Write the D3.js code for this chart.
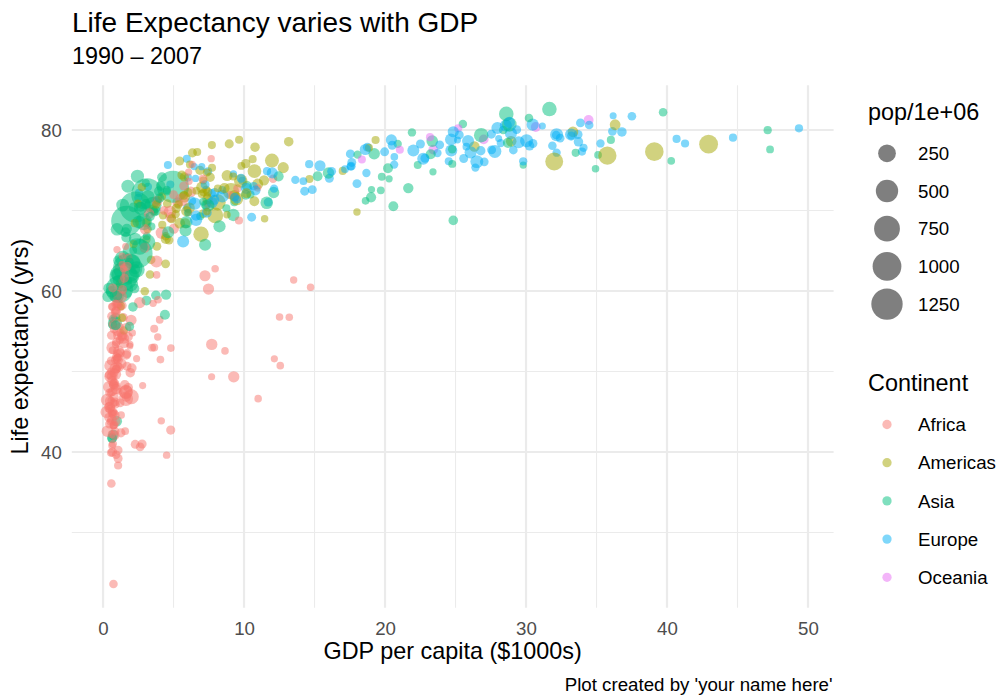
<!DOCTYPE html>
<html>
<head>
<meta charset="utf-8">
<script src="https://cdn.jsdelivr.net/npm/d3@7"></script>
<style>
  body { margin: 0; background: #fff; }
  text { font-family: "Liberation Sans", Arial, Helvetica, sans-serif; }
</style>
</head>
<body>
<div id="chart"></div>
<script>
const years = [1992, 1997, 2002, 2007];
const continents = ["Africa", "Americas", "Asia", "Europe", "Oceania"];
const colors = ["#F8766D", "#A3A500", "#00BF7D", "#00B0F6", "#E76BF3"];
const xTicks = [0, 10, 20, 30, 40, 50];
const xMinor = [5, 15, 25, 35, 45];
const yTicks = [40, 60, 80];
const yMinor = [30, 50, 70];
const sizeBreaks = [250, 500, 750, 1000, 1250];

// row: country, then [gdpPercap ($1000s), lifeExp, pop (millions)] for 1992, 1997, 2002, 2007
const africa = [
  ["Algeria",[5.02,67.74,26.30],[4.80,69.15,29.07],[5.29,70.99,31.29],[6.22,72.30,33.33]],
  ["Angola",[2.63,40.65,8.74],[2.28,40.96,9.88],[2.77,41.00,10.87],[4.80,42.73,12.42]],
  ["Benin",[1.19,53.92,4.98],[1.23,54.78,6.07],[1.37,54.41,7.03],[1.44,56.73,8.08]],
  ["Botswana",[7.95,62.75,1.34],[8.65,52.56,1.54],[11.00,46.63,1.63],[12.57,50.73,1.64]],
  ["Burkina Faso",[0.93,50.26,8.88],[0.95,50.32,10.35],[1.04,50.65,12.25],[1.22,52.30,14.33]],
  ["Burundi",[0.63,44.74,5.81],[0.46,45.33,6.12],[0.45,47.36,7.02],[0.43,49.58,8.39]],
  ["Cameroon",[1.79,54.31,12.47],[1.69,52.20,14.20],[1.93,49.86,15.93],[2.04,50.43,17.70]],
  ["Central African Republic",[0.75,49.40,3.27],[0.74,46.07,3.70],[0.74,43.31,4.05],[0.71,44.74,4.37]],
  ["Chad",[1.06,51.72,6.43],[1.00,51.57,7.56],[1.16,50.53,8.84],[1.70,50.65,10.24]],
  ["Comoros",[1.25,57.94,0.45],[1.17,60.66,0.53],[1.08,62.97,0.61],[0.99,65.15,0.71]],
  ["Congo, Dem. Rep.",[0.46,45.55,41.67],[0.31,42.59,47.80],[0.24,44.97,55.38],[0.28,46.46,64.61]],
  ["Congo, Rep.",[4.02,56.43,2.41],[3.48,52.96,2.80],[3.63,52.97,3.33],[3.63,55.32,3.80]],
  ["Cote d'Ivoire",[1.65,52.04,12.77],[1.79,47.99,14.63],[1.65,46.83,16.25],[1.54,48.33,18.01]],
  ["Djibouti",[2.38,51.60,0.38],[1.90,53.16,0.42],[1.91,53.37,0.45],[2.08,54.79,0.50]],
  ["Egypt",[3.79,63.67,59.40],[4.17,67.22,66.13],[4.75,69.81,73.31],[5.58,71.34,80.26]],
  ["Equatorial Guinea",[1.13,47.55,0.39],[2.81,48.25,0.44],[7.70,49.35,0.50],[12.15,51.58,0.55]],
  ["Eritrea",[0.58,49.99,3.67],[0.91,53.38,4.06],[0.77,55.24,4.41],[0.64,58.04,4.91]],
  ["Ethiopia",[0.42,48.09,52.90],[0.52,49.40,59.86],[0.53,50.73,67.95],[0.69,52.95,76.51]],
  ["Gabon",[13.52,61.37,0.99],[14.72,60.46,1.13],[12.52,56.76,1.30],[13.21,56.74,1.45]],
  ["Gambia",[0.67,52.64,1.03],[0.65,55.86,1.24],[0.66,58.04,1.46],[0.75,59.45,1.69]],
  ["Ghana",[0.93,57.50,16.28],[1.01,58.56,18.42],[1.11,58.45,20.55],[1.33,60.02,22.87]],
  ["Guinea",[0.79,48.58,6.99],[0.87,51.46,8.05],[0.95,53.68,8.81],[0.94,56.01,9.95]],
  ["Guinea-Bissau",[0.75,43.27,1.05],[0.80,44.87,1.19],[0.58,45.50,1.33],[0.58,46.39,1.47]],
  ["Kenya",[1.34,59.29,25.02],[1.36,54.41,28.26],[1.29,50.99,31.39],[1.46,54.11,35.61]],
  ["Lesotho",[0.98,59.69,1.80],[1.19,55.56,1.98],[1.28,44.59,2.05],[1.57,42.59,2.01]],
  ["Liberia",[0.64,40.80,1.91],[0.61,42.22,2.20],[0.53,43.75,2.81],[0.41,45.68,3.19]],
  ["Libya",[9.64,68.76,4.36],[9.47,71.56,4.76],[9.53,72.74,5.37],[12.06,73.95,6.04]],
  ["Madagascar",[1.04,52.21,12.21],[0.99,54.98,14.17],[0.89,57.29,16.47],[1.04,59.44,19.17]],
  ["Malawi",[0.58,49.42,10.01],[0.67,47.50,10.42],[0.67,45.01,11.82],[0.76,48.30,13.33]],
  ["Mali",[0.74,48.39,8.42],[0.79,49.90,9.38],[0.95,51.82,10.58],[1.04,54.47,12.03]],
  ["Mauritania",[1.36,61.37,2.12],[1.48,62.97,2.44],[1.58,62.25,2.83],[1.80,64.16,3.27]],
  ["Mauritius",[6.06,69.75,1.10],[7.43,70.74,1.15],[9.02,71.95,1.20],[10.96,72.80,1.25]],
  ["Morocco",[2.95,65.39,25.80],[2.98,67.66,28.53],[3.26,69.62,31.17],[3.82,71.16,33.76]],
  ["Mozambique",[0.41,44.28,13.16],[0.47,46.34,16.60],[0.63,44.03,18.47],[0.82,42.08,19.95]],
  ["Namibia",[3.80,62.00,1.55],[3.90,58.91,1.77],[4.07,51.48,1.97],[4.81,52.91,2.06]],
  ["Niger",[0.58,47.39,8.39],[0.58,51.31,9.67],[0.60,54.50,11.14],[0.62,56.87,12.89]],
  ["Nigeria",[1.62,47.47,93.36],[1.62,47.46,106.21],[1.62,46.61,119.90],[2.01,46.86,135.03]],
  ["Reunion",[6.10,73.62,0.62],[6.07,74.77,0.68],[6.32,75.74,0.74],[7.67,76.44,0.80]],
  ["Rwanda",[0.74,23.60,7.29],[0.59,36.09,7.21],[0.79,43.41,7.85],[0.86,46.24,8.86]],
  ["Sao Tome and Principe",[1.43,62.74,0.13],[1.34,63.31,0.15],[1.35,64.34,0.17],[1.60,65.53,0.20]],
  ["Senegal",[1.37,58.20,8.31],[1.39,60.19,9.54],[1.52,61.60,10.87],[1.71,63.06,12.27]],
  ["Sierra Leone",[1.07,38.33,4.26],[0.57,39.90,4.58],[0.70,41.01,5.36],[0.86,42.57,6.14]],
  ["Somalia",[0.93,39.66,6.10],[0.93,43.80,6.63],[0.88,45.94,7.75],[0.93,48.16,9.12]],
  ["South Africa",[7.23,61.89,39.96],[7.48,60.24,42.84],[7.71,53.37,44.43],[9.27,49.34,44.00]],
  ["Sudan",[1.49,53.56,28.23],[1.63,55.37,32.16],[1.99,56.37,37.09],[2.60,58.56,42.29]],
  ["Swaziland",[3.55,58.47,0.96],[3.88,54.29,1.05],[4.13,43.87,1.13],[4.51,39.61,1.13]],
  ["Tanzania",[0.83,50.44,26.61],[0.79,48.47,30.69],[0.90,49.65,34.59],[1.11,52.52,38.14]],
  ["Togo",[1.04,58.06,3.93],[0.98,58.39,4.32],[0.89,57.56,4.98],[0.88,58.42,5.70]],
  ["Tunisia",[4.33,70.00,8.52],[5.00,71.97,9.23],[5.72,73.04,9.77],[7.09,73.92,10.28]],
  ["Uganda",[0.64,48.83,18.25],[0.82,44.58,21.21],[0.93,47.81,24.74],[1.06,51.54,29.17]],
  ["Zambia",[1.21,46.10,8.38],[1.07,40.24,9.42],[1.07,39.19,10.60],[1.27,42.38,11.75]],
  ["Zimbabwe",[0.69,60.38,10.70],[0.79,46.81,11.40],[0.67,39.99,11.93],[0.47,43.49,12.31]]
];

const americas = [
  ["Argentina",[9.31,71.87,33.96],[10.97,73.28,36.20],[8.80,74.34,38.33],[12.78,75.32,40.30]],
  ["Bolivia",[2.96,59.96,6.89],[3.33,62.05,7.69],[3.41,63.88,8.45],[3.82,65.55,9.12]],
  ["Brazil",[6.95,67.06,155.98],[7.96,69.39,168.55],[8.13,71.01,179.91],[9.07,72.39,190.01]],
  ["Canada",[26.34,77.95,28.52],[28.95,78.61,30.31],[33.33,79.77,31.90],[36.32,80.65,33.39]],
  ["Chile",[7.60,74.13,13.57],[10.12,75.82,14.60],[10.78,77.86,15.50],[13.17,78.55,16.28]],
  ["Colombia",[5.44,68.42,34.20],[6.12,70.31,37.66],[5.76,71.68,41.01],[7.01,72.89,44.23]],
  ["Costa Rica",[6.16,75.71,3.17],[6.68,77.26,3.52],[7.72,78.12,3.83],[9.65,78.78,4.13]],
  ["Cuba",[5.59,74.41,10.72],[5.43,76.15,10.98],[6.34,77.16,11.23],[8.95,78.27,11.42]],
  ["Dominican Republic",[3.04,68.46,7.35],[3.61,69.96,7.99],[4.56,70.85,8.65],[6.03,72.24,9.32]],
  ["Ecuador",[7.10,69.61,10.75],[7.43,72.31,11.91],[5.77,74.17,12.92],[6.87,74.99,13.76]],
  ["El Salvador",[4.44,66.80,5.27],[5.15,69.54,5.78],[5.35,70.73,6.35],[5.73,71.88,6.94]],
  ["Guatemala",[4.44,63.37,8.49],[4.68,66.32,9.80],[4.86,68.98,11.18],[5.19,70.26,12.57]],
  ["Haiti",[1.46,55.09,6.33],[1.34,56.67,6.91],[1.27,58.14,7.61],[1.20,60.92,8.50]],
  ["Honduras",[3.08,66.40,5.08],[3.16,67.66,5.87],[3.10,68.57,6.68],[3.55,70.20,7.48]],
  ["Jamaica",[7.40,71.77,2.38],[7.12,72.26,2.53],[7.00,72.05,2.66],[7.32,72.57,2.78]],
  ["Mexico",[9.47,71.46,88.11],[9.77,73.67,95.90],[10.74,74.90,102.48],[11.98,76.20,108.70]],
  ["Nicaragua",[2.17,65.84,4.02],[2.25,68.43,4.61],[2.47,70.84,5.15],[2.75,72.90,5.68]],
  ["Panama",[6.62,72.46,2.48],[7.11,73.74,2.73],[7.36,74.71,2.99],[9.81,75.54,3.24]],
  ["Paraguay",[4.20,68.23,4.48],[4.25,69.40,5.15],[3.78,70.76,5.88],[4.17,71.75,6.67]],
  ["Peru",[4.45,66.46,22.43],[5.84,68.39,24.75],[5.91,69.91,26.77],[7.41,71.42,28.67]],
  ["Puerto Rico",[14.64,73.91,3.59],[17.00,74.92,3.76],[18.86,77.78,3.86],[19.33,78.75,3.94]],
  ["Trinidad and Tobago",[7.37,69.86,1.18],[8.79,69.47,1.14],[11.46,68.98,1.10],[18.01,69.82,1.06]],
  ["United States",[32.00,76.09,256.89],[35.77,76.81,272.91],[39.10,77.31,287.68],[42.95,78.24,301.14]],
  ["Uruguay",[8.14,72.75,3.15],[9.23,74.22,3.26],[7.73,75.31,3.36],[10.61,76.38,3.45]],
  ["Venezuela",[10.73,71.15,20.27],[10.17,72.15,22.37],[8.61,72.77,24.29],[11.42,73.75,26.08]]
];

const asia = [
  ["Afghanistan",[0.65,41.67,16.32],[0.64,41.76,22.23],[0.73,42.13,25.27],[0.97,43.83,31.89]],
  ["Bahrain",[19.04,72.60,0.53],[20.29,73.93,0.60],[23.40,74.80,0.66],[29.80,75.64,0.71]],
  ["Bangladesh",[0.84,56.02,113.70],[0.97,59.41,123.32],[1.14,62.01,135.66],[1.39,64.06,150.45]],
  ["Cambodia",[0.68,55.80,10.15],[0.73,56.53,11.78],[0.90,56.75,12.93],[1.71,59.72,14.13]],
  ["China",[1.66,68.69,1164.97],[2.29,70.43,1230.08],[3.12,72.03,1280.40],[4.96,72.96,1318.68]],
  ["Hong Kong, China",[24.76,77.60,5.83],[28.38,80.00,6.50],[30.21,81.50,6.76],[39.72,82.21,6.98]],
  ["India",[1.16,60.22,872.00],[1.46,61.77,959.00],[1.75,62.88,1034.17],[2.45,64.70,1110.40]],
  ["Indonesia",[2.38,62.68,184.82],[3.12,66.04,199.28],[2.87,68.59,211.06],[3.54,70.65,223.55]],
  ["Iran",[7.24,65.74,60.40],[8.26,68.04,63.30],[9.24,69.45,66.91],[11.61,70.96,69.45]],
  ["Iraq",[3.75,59.46,17.86],[3.08,58.81,20.78],[4.39,57.05,24.00],[4.47,59.55,27.50]],
  ["Israel",[18.05,76.93,4.94],[20.90,78.27,5.53],[21.91,79.70,6.03],[25.52,80.75,6.43]],
  ["Japan",[26.82,79.36,124.33],[28.82,80.69,125.96],[28.60,82.00,127.07],[31.66,82.60,127.47]],
  ["Jordan",[3.43,68.02,3.87],[3.65,69.77,4.53],[3.85,71.26,5.31],[4.52,72.54,6.05]],
  ["Korea, Dem. Rep.",[3.73,69.98,20.71],[1.69,67.73,21.59],[1.65,66.66,22.22],[1.59,67.30,23.30]],
  ["Korea, Rep.",[12.10,72.24,43.81],[15.99,74.65,46.17],[19.23,77.05,47.97],[23.35,78.62,49.04]],
  ["Kuwait",[34.93,75.19,1.42],[40.30,76.16,1.77],[35.11,76.90,2.11],[47.31,77.59,2.51]],
  ["Lebanon",[6.89,69.29,3.22],[8.75,70.27,3.43],[9.31,71.03,3.68],[10.46,71.99,3.92]],
  ["Malaysia",[7.28,70.69,18.32],[10.13,71.94,20.48],[10.21,73.04,22.66],[12.45,74.24,24.82]],
  ["Mongolia",[1.79,61.27,2.31],[1.90,63.63,2.49],[2.14,65.03,2.67],[3.10,66.80,2.87]],
  ["Myanmar",[0.35,59.32,40.55],[0.42,60.33,43.25],[0.61,59.91,45.60],[0.94,62.07,47.76]],
  ["Nepal",[0.90,55.73,20.33],[1.01,59.43,23.00],[1.06,61.34,25.87],[1.09,63.79,28.90]],
  ["Oman",[18.62,71.20,1.92],[19.70,72.50,2.28],[19.77,74.19,2.71],[22.32,75.64,3.20]],
  ["Pakistan",[1.97,60.84,120.07],[2.05,61.82,135.56],[2.09,63.61,153.40],[2.61,65.48,169.27]],
  ["Philippines",[2.28,66.46,67.19],[2.54,68.56,75.01],[2.65,70.30,82.99],[3.19,71.69,91.08]],
  ["Saudi Arabia",[24.84,68.77,16.95],[20.59,70.53,21.23],[19.01,71.63,24.50],[21.65,72.78,27.60]],
  ["Singapore",[24.77,75.79,3.24],[33.52,77.16,3.80],[36.02,78.77,4.20],[47.14,79.97,4.55]],
  ["Sri Lanka",[2.15,70.38,17.59],[2.66,70.46,18.70],[3.02,70.82,19.58],[3.97,72.40,20.38]],
  ["Syria",[3.34,69.25,13.22],[4.01,71.53,15.08],[4.09,73.05,17.16],[4.18,74.14,19.31]],
  ["Taiwan",[15.22,74.26,20.69],[20.21,75.25,21.63],[23.24,76.99,22.45],[28.72,78.40,23.17]],
  ["Thailand",[4.62,67.30,56.67],[5.85,67.52,60.22],[5.91,68.56,62.81],[7.46,70.62,65.07]],
  ["Vietnam",[0.99,67.66,69.94],[1.39,70.67,76.05],[1.76,73.02,80.91],[2.44,74.25,85.26]],
  ["West Bank and Gaza",[6.02,69.72,1.99],[7.11,71.10,2.83],[4.52,72.37,3.39],[3.03,73.42,4.02]],
  ["Yemen, Rep.",[1.88,55.60,13.37],[2.12,58.02,15.83],[2.23,60.31,18.70],[2.28,62.70,22.21]]
];

const europe = [
  ["Albania",[2.50,71.58,3.33],[3.19,72.95,3.43],[4.60,75.65,3.51],[5.94,76.42,3.60]],
  ["Austria",[27.04,76.04,7.91],[29.10,77.51,8.07],[32.42,78.98,8.15],[36.13,79.83,8.20]],
  ["Belgium",[25.58,76.46,10.05],[27.56,77.53,10.20],[30.49,78.32,10.31],[33.69,79.44,10.39]],
  ["Bosnia and Herzegovina",[2.55,72.18,4.26],[4.77,73.24,3.61],[6.02,74.09,4.17],[7.45,74.85,4.55]],
  ["Bulgaria",[6.30,71.19,8.66],[5.97,70.32,8.07],[7.70,72.14,7.66],[10.68,73.01,7.32]],
  ["Croatia",[8.45,72.53,4.49],[9.88,73.68,4.44],[11.63,74.88,4.48],[14.62,75.75,4.49]],
  ["Czech Republic",[14.30,72.40,10.32],[16.05,74.01,10.30],[17.60,75.51,10.26],[22.83,76.49,10.23]],
  ["Denmark",[26.41,75.33,5.17],[29.80,76.11,5.28],[32.17,77.18,5.37],[35.28,78.33,5.47]],
  ["Finland",[20.65,75.70,5.04],[23.72,77.13,5.13],[28.21,78.37,5.19],[33.21,79.31,5.24]],
  ["France",[24.70,77.46,57.37],[25.89,78.64,58.62],[28.93,79.59,59.93],[30.47,80.66,61.08]],
  ["Germany",[26.51,76.07,80.60],[27.79,77.34,82.01],[30.04,78.67,82.35],[32.17,79.41,82.40]],
  ["Greece",[17.54,77.03,10.33],[18.75,77.87,10.50],[22.51,78.26,10.60],[27.54,79.48,10.71]],
  ["Hungary",[10.54,69.17,10.35],[11.71,71.04,10.24],[14.84,72.59,10.08],[18.01,73.34,9.96]],
  ["Iceland",[25.14,78.77,0.26],[28.06,78.95,0.27],[31.16,80.50,0.29],[36.18,81.76,0.30]],
  ["Ireland",[17.56,75.47,3.56],[24.52,76.12,3.67],[34.08,77.78,3.88],[40.68,78.89,4.11]],
  ["Italy",[22.01,77.44,56.84],[24.68,78.82,57.48],[27.97,80.24,57.93],[28.57,80.55,58.15]],
  ["Montenegro",[7.00,75.44,0.62],[6.47,75.45,0.69],[6.56,73.98,0.72],[9.25,74.54,0.68]],
  ["Netherlands",[26.79,77.42,15.17],[30.25,78.03,15.60],[33.72,78.53,16.12],[36.80,79.76,16.57]],
  ["Norway",[33.97,77.32,4.29],[41.28,78.32,4.41],[44.68,79.05,4.54],[49.36,80.20,4.63]],
  ["Poland",[7.74,70.99,38.37],[10.16,72.75,38.65],[12.00,74.67,38.63],[15.39,75.56,38.52]],
  ["Portugal",[16.21,74.86,9.93],[17.64,75.97,10.16],[19.97,77.29,10.43],[20.51,78.10,10.64]],
  ["Romania",[6.60,69.36,22.80],[7.35,69.72,22.56],[7.89,71.32,22.40],[10.81,72.48,22.28]],
  ["Serbia",[9.33,71.66,9.83],[7.92,72.23,10.34],[7.24,73.21,10.11],[9.79,74.00,10.15]],
  ["Slovak Republic",[9.50,71.38,5.30],[12.13,72.71,5.38],[13.64,73.80,5.41],[18.68,74.66,5.45]],
  ["Slovenia",[14.21,73.64,1.99],[17.16,75.13,2.01],[20.66,76.66,2.01],[25.77,77.93,2.01]],
  ["Spain",[18.60,77.57,39.55],[20.45,78.77,39.86],[24.84,79.78,40.15],[28.82,80.94,40.45]],
  ["Sweden",[23.88,78.16,8.72],[25.27,79.39,8.90],[29.34,80.04,8.95],[33.86,80.88,9.03]],
  ["Switzerland",[31.87,78.03,6.86],[32.14,79.37,7.19],[34.48,80.62,7.36],[37.51,81.70,7.55]],
  ["Turkey",[5.68,66.15,58.18],[6.60,68.84,63.05],[6.51,70.85,67.31],[8.46,71.78,71.16]],
  ["United Kingdom",[22.71,76.42,57.87],[26.07,77.22,58.81],[29.48,78.47,59.91],[33.20,79.43,60.78]]
];

const oceania = [
  ["Australia",[23.42,77.56,17.48],[27.00,78.83,18.57],[30.69,80.37,19.55],[34.44,81.24,20.43]],
  ["New Zealand",[18.36,76.33,3.44],[21.05,77.55,3.68],[23.19,79.11,3.91],[25.19,80.20,4.12]]
];

const width = 1001, height = 696;
const panel = {left: 71.8, right: 833.6, top: 85.3, bottom: 607.8};
const fontTitle = "28px", fontMid = "23.4px", fontSmall = "18.7px";

// flatten into one row per country-year, ordered like the source table
let points = [];
[africa, americas, asia, europe, oceania].forEach(function(list, ci) {
  list.forEach(function(row) {
    years.forEach(function(yr, i) {
      let v = row[i + 1];
      points.push({country: row[0], year: yr, continent: continents[ci],
                   gdp: v[0], life: v[1], pop: v[2]});
    });
  });
});
points.sort(function(a, b) {
  return a.country < b.country ? -1 : a.country > b.country ? 1 : a.year - b.year;
});

const xExt = d3.extent(points, d => d.gdp),
      yExt = d3.extent(points, d => d.life),
      pExt = d3.extent(points, d => d.pop);
const xPad = (xExt[1] - xExt[0]) * 0.05,
      yPad = (yExt[1] - yExt[0]) * 0.05;

const x = d3.scaleLinear().domain([xExt[0] - xPad, xExt[1] + xPad]).range([panel.left, panel.right]);
const y = d3.scaleLinear().domain([yExt[0] - yPad, yExt[1] + yPad]).range([panel.bottom, panel.top]);
const color = d3.scaleOrdinal().domain(continents).range(colors);
// area scale like ggplot: size 1..6, then to pixel radius
const sizeScale = d3.scaleSqrt().domain([0, pExt[1] - pExt[0]]).range([1, 6]);
function radius(p) {
  let s = sizeScale(Math.max(0, p - pExt[0]));
  return (5.06 * s + 1.68) / 2;
}

let svg = d3.select("#chart")
  .append("svg")
  .attr("width", width)
  .attr("height", height);

// grid
let grid = svg.append("g");
grid.selectAll(".xminor").data(xMinor).enter().append("line")
  .attr("x1", d => x(d)).attr("x2", d => x(d))
  .attr("y1", panel.top).attr("y2", panel.bottom)
  .style("stroke", "#EBEBEB").style("stroke-width", 1.1);
grid.selectAll(".yminor").data(yMinor).enter().append("line")
  .attr("y1", d => y(d)).attr("y2", d => y(d))
  .attr("x1", panel.left).attr("x2", panel.right)
  .style("stroke", "#EBEBEB").style("stroke-width", 1.1);
grid.selectAll(".xmajor").data(xTicks).enter().append("line")
  .attr("x1", d => x(d)).attr("x2", d => x(d))
  .attr("y1", panel.top).attr("y2", panel.bottom)
  .style("stroke", "#EBEBEB").style("stroke-width", 2.2);
grid.selectAll(".ymajor").data(yTicks).enter().append("line")
  .attr("y1", d => y(d)).attr("y2", d => y(d))
  .attr("x1", panel.left).attr("x2", panel.right)
  .style("stroke", "#EBEBEB").style("stroke-width", 2.2);

// axes (labels only, no lines)
let xAxis = svg.append("g")
  .attr("transform", "translate(0," + panel.bottom + ")")
  .call(d3.axisBottom(x).tickValues(xTicks).tickSize(0).tickPadding(0));
xAxis.select(".domain").remove();
xAxis.selectAll("text")
  .attr("y", 27.5).attr("dy", null)
  .style("font-size", fontSmall).style("fill", "#4D4D4D")
  .style("font-family", '"Liberation Sans", Arial, sans-serif');

let yAxis = svg.append("g")
  .attr("transform", "translate(" + panel.left + ",0)")
  .call(d3.axisLeft(y).tickValues(yTicks).tickSize(0).tickPadding(0));
yAxis.select(".domain").remove();
yAxis.selectAll("text")
  .attr("x", -10).attr("dy", "0.36em")
  .style("font-size", fontSmall).style("fill", "#4D4D4D")
  .style("font-family", '"Liberation Sans", Arial, sans-serif');

// points
svg.append("g")
  .selectAll("circle")
  .data(points)
  .enter().append("circle")
  .attr("cx", d => x(d.gdp))
  .attr("cy", d => y(d.life))
  .attr("r", d => radius(d.pop))
  .style("fill", d => color(d.continent))
  .style("fill-opacity", 0.5);

// titles
svg.append("text").attr("x", 72).attr("y", 32)
  .text("Life Expectancy varies with GDP")
  .style("font-size", fontTitle).style("fill", "#000");
svg.append("text").attr("x", 72).attr("y", 64)
  .text("1990 – 2007")
  .style("font-size", fontMid).style("fill", "#000");
svg.append("text").attr("x", (panel.left + panel.right) / 2).attr("y", 659)
  .attr("text-anchor", "middle")
  .text("GDP per capita ($1000s)")
  .style("font-size", fontMid);
svg.append("text")
  .attr("transform", "translate(28," + (panel.top + panel.bottom) / 2 + ") rotate(-90)")
  .attr("text-anchor", "middle")
  .text("Life expectancy (yrs)")
  .style("font-size", fontMid);
svg.append("text").attr("x", panel.right - 1).attr("y", 691)
  .attr("text-anchor", "end")
  .text("Plot created by 'your name here'")
  .style("font-size", fontSmall);

// size legend
let lg1 = svg.append("g");
lg1.append("text").attr("x", 868).attr("y", 120)
  .text("pop/1e+06").style("font-size", fontMid);
let sizeKeys = lg1.selectAll(".sk").data(sizeBreaks).enter().append("g")
  .attr("transform", (d, i) => "translate(887," + (153.3 + i * 37.7) + ")");
sizeKeys.append("circle")
  .attr("r", d => radius(d))
  .style("fill", "#000").style("fill-opacity", 0.5);
sizeKeys.append("text").attr("x", 31).attr("dy", "0.36em")
  .text(d => d).style("font-size", fontSmall);

// continent legend
let lg2 = svg.append("g");
lg2.append("text").attr("x", 868).attr("y", 391)
  .text("Continent").style("font-size", fontMid);
let colKeys = lg2.selectAll(".ck").data(continents).enter().append("g")
  .attr("transform", (d, i) => "translate(887," + (424.5 + i * 38.2) + ")");
colKeys.append("circle")
  .attr("r", (5.06 * 1.5 + 1.68) / 2)
  .style("fill", d => color(d)).style("fill-opacity", 0.5);
colKeys.append("text").attr("x", 31).attr("dy", "0.36em")
  .text(d => d).style("font-size", fontSmall);
</script>
</body>
</html>
